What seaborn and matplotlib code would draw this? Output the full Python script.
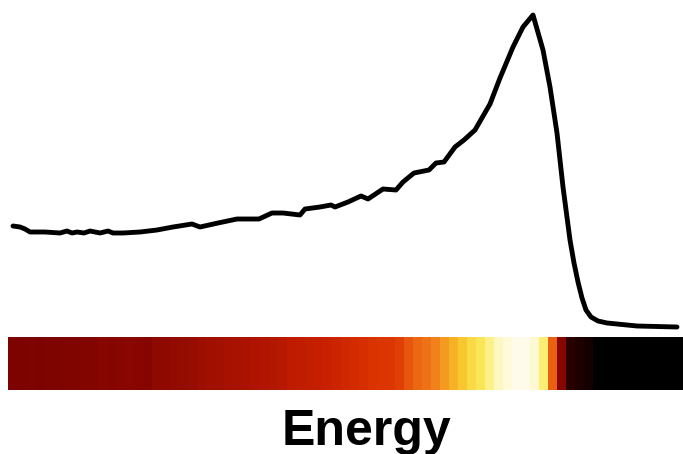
import numpy as np
import pandas as pd
import seaborn as sns
import matplotlib
matplotlib.use("Agg")
import matplotlib.pyplot as plt
from matplotlib.colors import LinearSegmentedColormap

# Spectrum trace: energy channel and measured intensity (arbitrary units)
energy = [5, 12, 17, 22, 37, 52, 59, 64, 69, 76, 82, 92, 100, 105, 115, 132,
          149, 165, 184, 192, 210, 229, 251, 264, 275, 292, 297, 312, 323,
          327, 340, 353, 360, 375, 388, 395, 406, 421, 428, 436, 447, 456,
          467, 482, 492, 505, 515, 525, 535, 542, 549, 555, 562, 566, 570,
          574, 578, 583, 590, 599, 629, 669]
intensity = [101, 100, 98, 95, 95, 94, 96, 94, 95, 94, 96, 94, 96, 94, 94,
             95, 97, 100, 103, 100, 104, 108, 108, 114, 114, 112, 118, 120,
             122, 120, 125, 131, 128, 138, 137, 145, 154, 157, 164, 165, 180,
             187, 197, 223, 249, 280, 300, 312, 277, 240, 194, 140, 87, 64,
             45, 29, 17, 10, 6, 4, 1, 0]

# Colour strip: one level per 9-channel bin along the same energy axis
strip_levels = [0.30, 0.30, 0.31, 0.30, 0.31, 0.31, 0.32, 0.32, 0.33, 0.33,
                0.35, 0.34, 0.35, 0.36, 0.35, 0.34, 0.38, 0.39, 0.40, 0.41,
                0.42, 0.44, 0.45, 0.46, 0.47, 0.48, 0.49, 0.50, 0.51, 0.52,
                0.53, 0.56, 0.57, 0.58, 0.59, 0.60, 0.61, 0.62, 0.63, 0.64,
                0.65, 0.655, 0.66, 0.67, 0.71, 0.73, 0.74, 0.76, 0.79, 0.82,
                0.84, 0.87, 0.89, 0.92, 0.95, 0.98, 1.0, 1.0, 0.97, 0.91,
                0.72, 0.35, 0.08, 0.06, 0.04, 0.0, 0.0, 0.0, 0.0, 0.0,
                0.0, 0.0, 0.0, 0.0, 0.0]

axis_label = "Energy"

# Heat palette running from black through deep red, orange and yellow to cream
heat_stops = [(0.00, "#000000"), (0.05, "#1a0000"), (0.20, "#6a0000"),
              (0.30, "#7c0300"), (0.40, "#920a00"), (0.50, "#ae1400"),
              (0.60, "#c82000"), (0.65, "#da3200"), (0.70, "#e64e0c"),
              (0.75, "#f07818"), (0.80, "#f5a020"), (0.85, "#f8cc30"),
              (0.90, "#fbeb60"), (0.95, "#fdf8c0"), (1.00, "#fffbea")]
heat = LinearSegmentedColormap.from_list("heat_strip", heat_stops)

sns.set_theme(style="white")
W, H = 683, 454
fig = plt.figure(figsize=(W / 100, H / 100), dpi=100)
fig.patch.set_facecolor("white")

# Trace panel
ax = fig.add_axes([8 / W, (H - 337) / H, 675 / W, 337 / H])
df = pd.DataFrame({"energy": energy, "intensity": intensity})
sns.lineplot(data=df, x="energy", y="intensity", ax=ax, color="black",
             linewidth=3.5, solid_joinstyle="round", solid_capstyle="round")
ax.set_xlim(0, 675)
ax.set_ylim(-10, 327)
ax.set_axis_off()

# Colour strip
ax2 = fig.add_axes([8 / W, (H - 390) / H, 675 / W, 53 / H])
sns.heatmap(np.array([strip_levels]), ax=ax2, cmap=heat, vmin=0, vmax=1,
            cbar=False, xticklabels=False, yticklabels=False)
ax2.set_axis_off()

fig.text(366 / W, (H - 445) / H, axis_label, ha="center", va="baseline",
         fontsize=36, fontweight="bold", color="black",
         family=["Liberation Sans", "DejaVu Sans"])

fig.savefig("out.png", dpi=100, facecolor="white")
